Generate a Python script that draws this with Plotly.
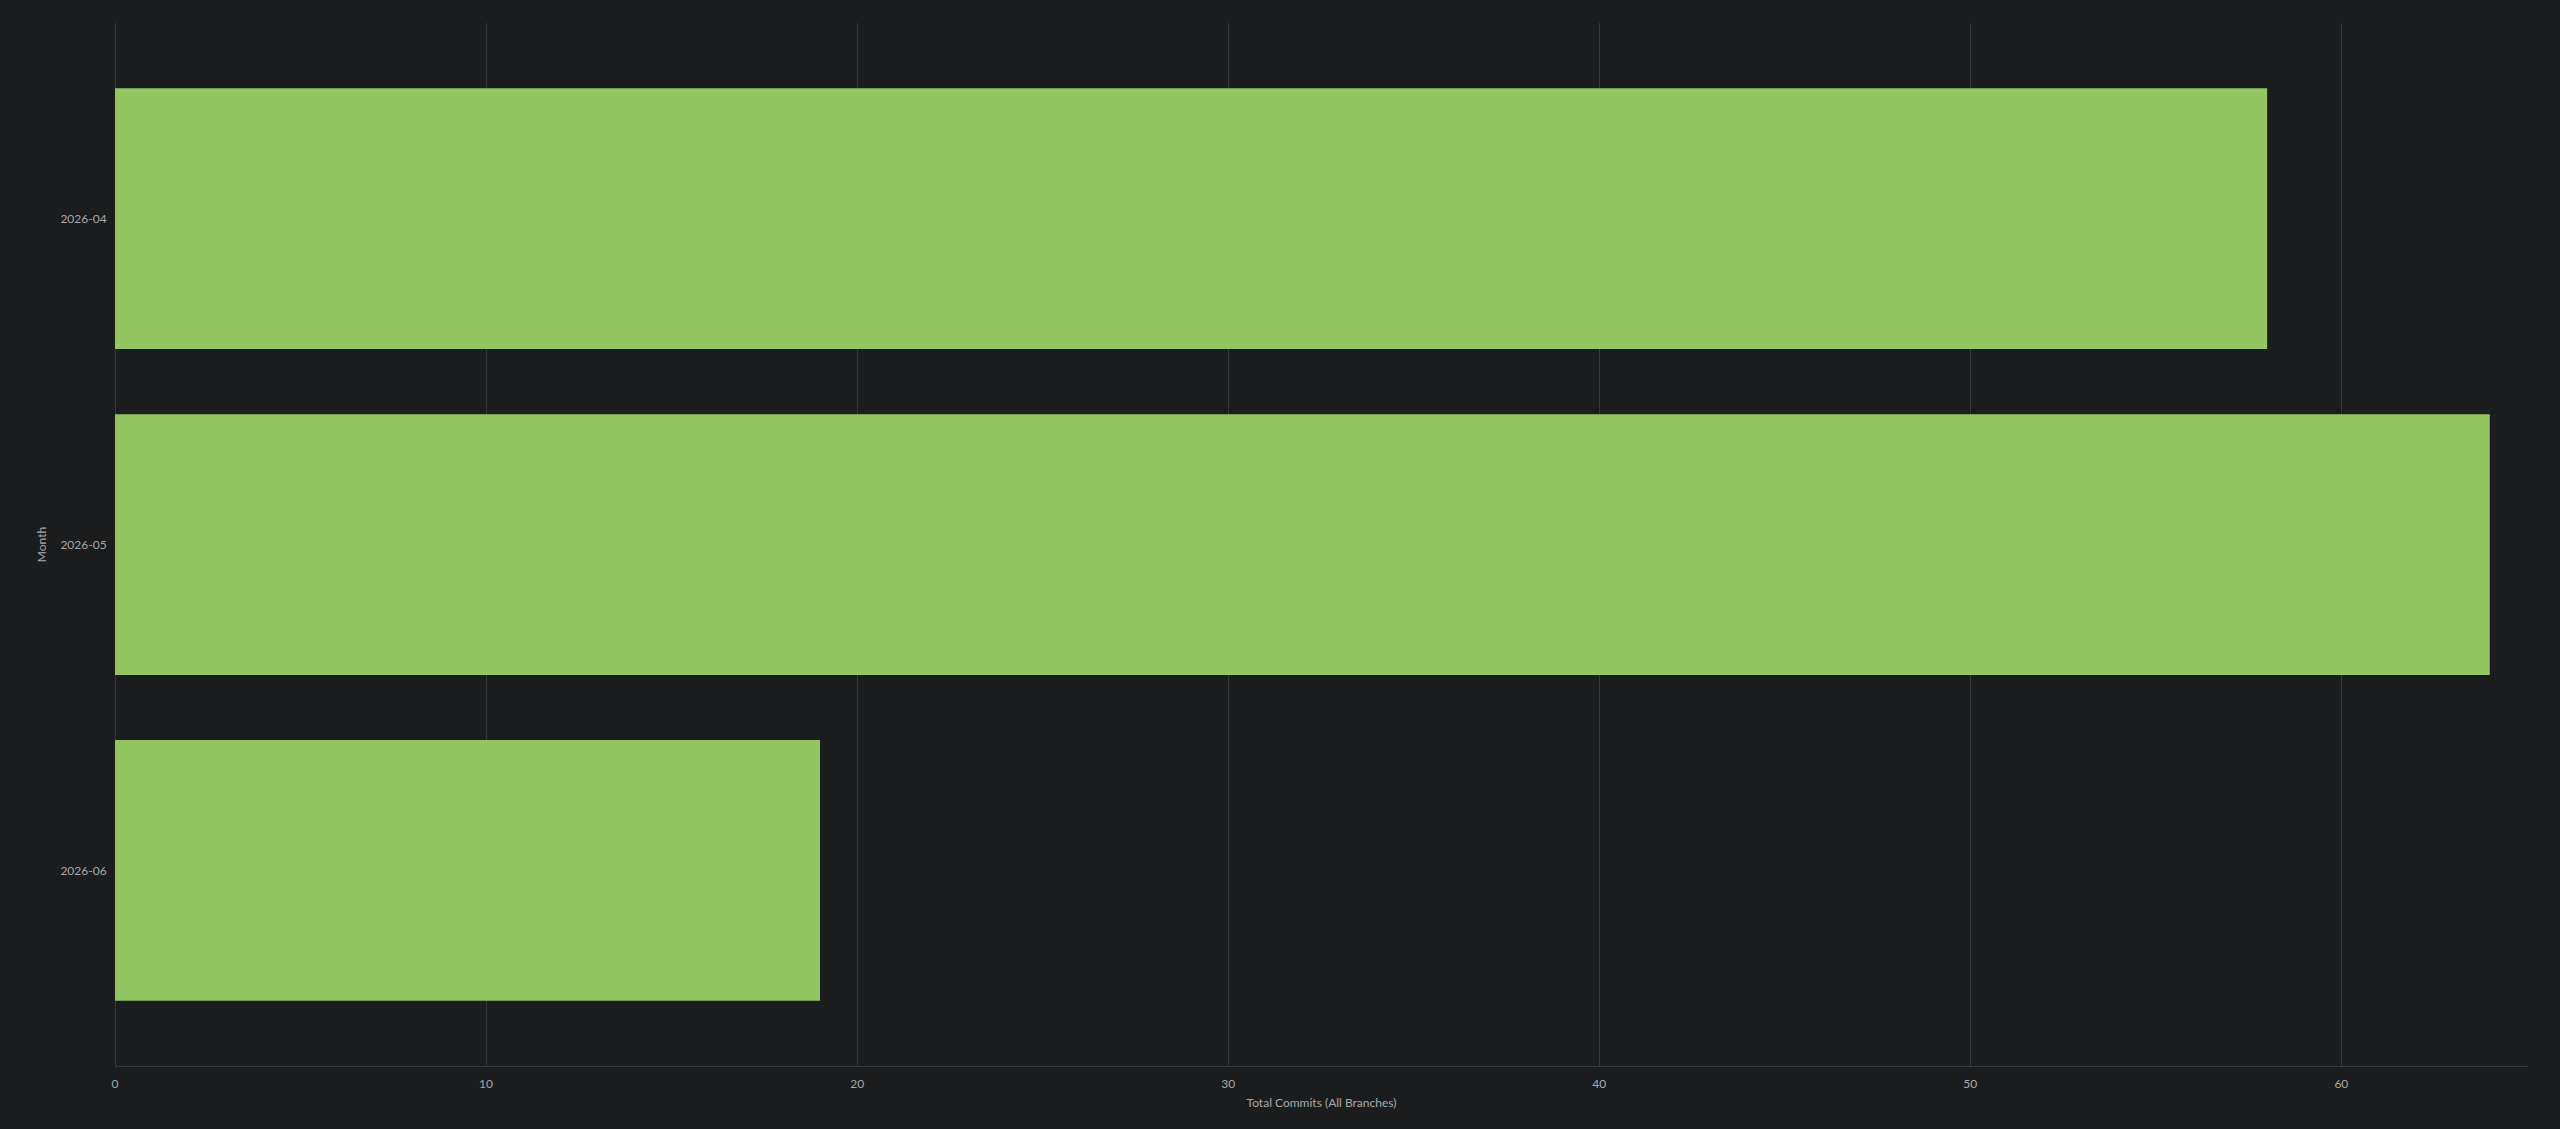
import plotly.graph_objects as go

# data
months = ["2026-04", "2026-05", "2026-06"]
commits = [58, 64, 19]

BG = "#1b1c1e"
BAR = "#93c561"
GRID = "#37383b"
TEXT = "#a9a9a9"

fig = go.Figure()
fig.add_trace(go.Bar(
    x=commits, y=months, orientation="h",
    marker=dict(color=BAR, line=dict(width=0)),
    width=0.8,
    showlegend=False,
))

fig.update_layout(
    width=2560, height=1129,
    paper_bgcolor=BG, plot_bgcolor=BG,
    margin=dict(l=115, r=32, t=23, b=63),
    font=dict(family="Lato", size=12, color=TEXT),
    xaxis=dict(
        title=dict(text="Total Commits (All Branches)", font=dict(size=12, color=TEXT), standoff=8),
        range=[0, 65.03], dtick=10, tick0=0,
        showgrid=True, gridcolor=GRID, gridwidth=1,
        zeroline=True, zerolinecolor=GRID, zerolinewidth=1,
        showline=True, linecolor=GRID, linewidth=1,
        ticks="outside", ticklen=7, tickcolor=BG,
        tickfont=dict(size=12, color=TEXT),
    ),
    yaxis=dict(
        type="category",
        title=dict(text="Month", font=dict(size=12, color=TEXT), standoff=11),
        categoryorder="array", categoryarray=months,
        range=[2.6, -0.6],
        showgrid=False, zeroline=False, showline=False,
        ticks="outside", ticklen=5, tickcolor=BG,
        tickfont=dict(size=12, color=TEXT),
    ),
)

fig.write_html(
    "out.html",
    config={"displayModeBar": False},
    post_script="document.body.style.margin='0';document.body.style.background='%s';" % BG,
)
